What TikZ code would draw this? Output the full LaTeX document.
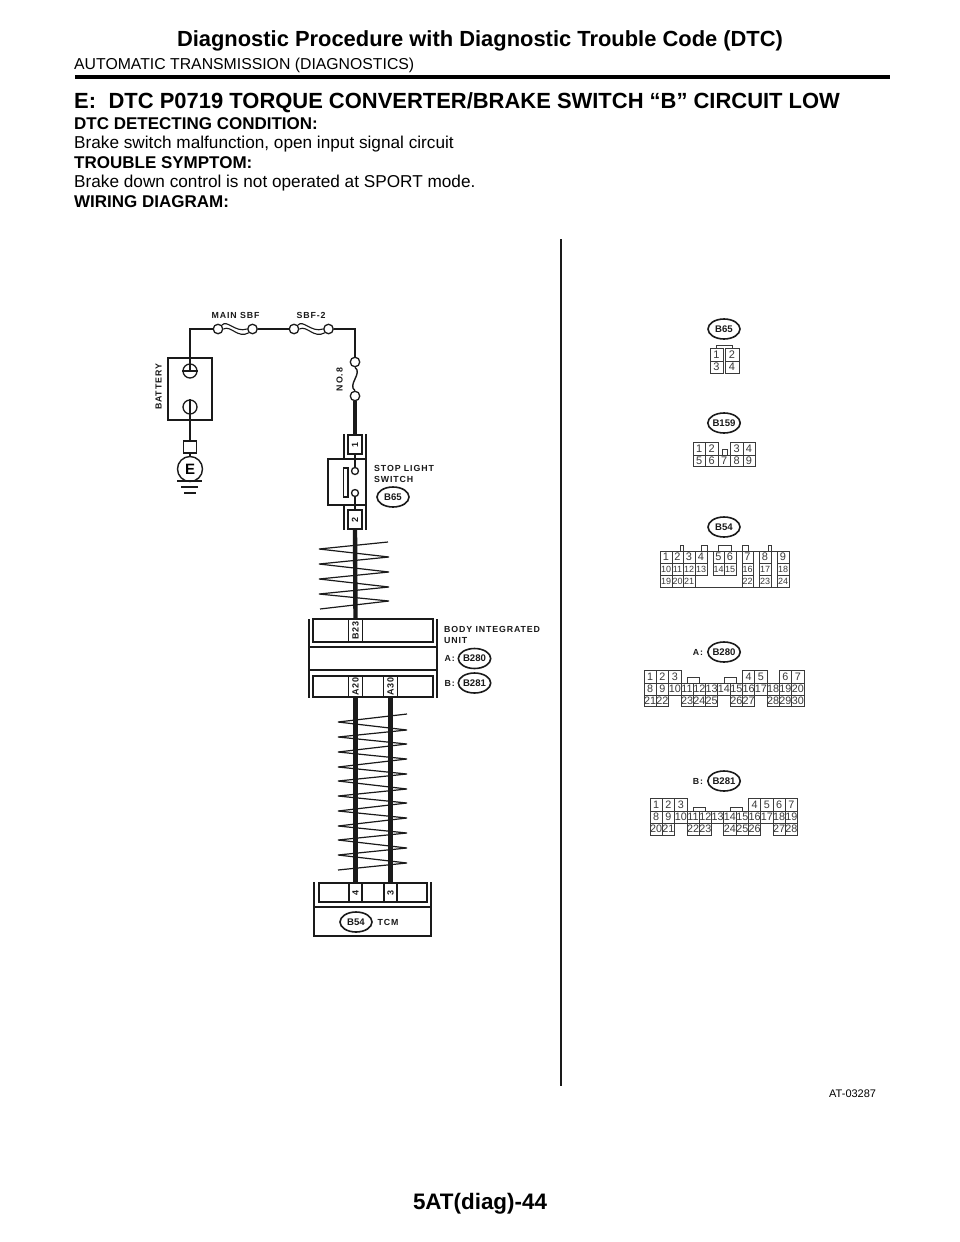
\documentclass[tikz,border=0pt]{standalone}
\usepackage{fontspec}
\setmainfont{Liberation Sans}
\newfontfamily\spaced[LetterSpace=10,Ligatures=NoCommon]{Liberation Sans}
\usetikzlibrary{shapes.geometric}
\definecolor{ink}{HTML}{1A1A1A}
\definecolor{pinink}{HTML}{3A3A3A}
\newcommand{\fs}[1]{\fontsize{#1}{#1}\selectfont}
\tikzset{
  wire/.style={line width=1.4pt,ink},
  hwire/.style={line width=4.4pt,ink},
  twist/.style={line width=1.2pt,ink,line join=bevel},
  box/.style={line width=1.3pt,ink},
  term/.style={circle,draw=ink,line width=1.3pt,fill=white,inner sep=0pt,minimum size=9.5pt},
  smallterm/.style={term,minimum size=7pt},
  pinbox/.style={rectangle,draw=ink,line width=1.3pt,fill=white,inner sep=0pt,minimum width=14pt,minimum height=22pt,font=\spaced\bfseries\fs{9},text=ink},
  lab/.style={font=\spaced\bfseries\fs{8.8},text=ink,inner sep=0pt},
  tag/.style={ellipse,draw=ink,line width=1.6pt,inner sep=0pt,minimum width=32pt,minimum height=20pt,font=\bfseries\fs{9.6},text=ink},
  pinline/.style={line width=.8pt,pinink},
  pinnum/.style={inner sep=0pt,text=pinink},
  head/.style={anchor=base west,inner sep=0pt,text=black}
}
% prefix, x0, y1, y2, font size, list of column/text
\newcommand{\gridrow}[6]{%
  \foreach \c/\t in {#6}{%
    \pgfmathsetmacro{\xa}{#2+12.3*\c}%
    \pgfmathsetmacro{\xb}{\xa+12.3}%
    \draw[pinline] (\xa,#3) rectangle (\xb,#4) node[midway,pinnum,font=\fs{#5}] (#1\t) {\t};%
  }}
% prefix, y1, y2, font size, list of xa/xb/text
\newcommand{\pinrow}[5]{%
  \foreach \a/\b/\t in {#5}{%
    \draw[pinline] (\a,#2) rectangle (\b,#3) node[midway,pinnum,font=\fs{#4}] (#1\t) {\t};%
  }}
\begin{document}
\begin{tikzpicture}[x=1pt,y=-1pt]
\useasboundingbox (0,0) rectangle (960,1242);
\fill[white] (0,0) rectangle (960,1242);

% page text
\node[inner sep=0pt,anchor=base,font=\bfseries\fs{21.9}] (title) at (480,46.5) {Diagnostic Procedure with Diagnostic Trouble Code (DTC)};
\node[head,font=\fs{15.8}] (sub) at (74,69) {AUTOMATIC TRANSMISSION (DIAGNOSTICS)};
\draw[line width=4pt,black] (75,76.5) -- (890,76.5);
\node[head,font=\bfseries\fs{21.95}] (sec) at (74,108) {E:\hspace{12.5pt}DTC P0719 TORQUE CONVERTER/BRAKE SWITCH “B” CIRCUIT LOW};
\node[head,font=\bfseries\fs{17}] (t1) at (74,129) {DTC DETECTING CONDITION:};
\node[head,font=\fs{17.2}] (t2) at (74,148.5) {Brake switch malfunction, open input signal circuit};
\node[head,font=\bfseries\fs{17}] (t3) at (74,168) {TROUBLE SYMPTOM:};
\node[head,font=\fs{17.2}] (t4) at (74,187.5) {Brake down control is not operated at SPORT mode.};
\node[head,font=\bfseries\fs{17}] (t5) at (74,207.5) {WIRING DIAGRAM:};
\node[inner sep=0pt,anchor=base,font=\bfseries\fs{22.4}] (foot) at (480,1209) {5AT(diag)-44};
\node[head,font=\fs{11}] (code) at (829,1097) {AT-03287};

% divider
\draw[line width=2pt,ink] (561,239) -- (561,1086);

% battery
\draw[box] (168,358) rectangle (212,420);
\node[lab,rotate=90] (battlab) at (158.5,387) {BATTERY};
\node[circle,draw=ink,line width=1.3pt,inner sep=0pt,minimum size=14pt] (bp) at (190,371) {};
\node[circle,draw=ink,line width=1.3pt,inner sep=0pt,minimum size=14pt] (bm) at (190,407) {};
\draw[wire] (bp.west) -- (bp.east);
\node[rectangle,draw=ink,line width=1.3pt,inner sep=0pt,minimum width=13pt,minimum height=12pt] (gsq) at (190,447) {};
\node[circle,draw=ink,line width=1.4pt,inner sep=0pt,minimum size=25pt,font=\bfseries\fs{15}] (gnd) at (190,469) {E};
\draw[wire] (bm.north) -- (bm.center) -- (gsq.north);
\draw[wire] (gsq.south) -- (gnd.north);
\draw[wire] (177,481) -- (202,481) (181,487) -- (198,487) (184,493) -- (196,493);

% fuses
\node[term] (mf1) at (218,329) {};
\node[term] (mf2) at (252.5,329) {};
\node[term] (sf1) at (294,329) {};
\node[term] (sf2) at (328.5,329) {};
\node[term] (n1) at (355,362) {};
\node[term] (n2) at (355,396) {};
\draw[wire,line width=1.1pt] (mf1.north east) .. controls (227,319) and (235,333) .. (mf2.west);
\draw[wire,line width=1.1pt] (mf1.east) .. controls (231,325) and (238,339) .. (mf2.south west);
\draw[wire,line width=1.1pt] (sf1.north east) .. controls (303,319) and (311,333) .. (sf2.west);
\draw[wire,line width=1.1pt] (sf1.east) .. controls (307,325) and (314,339) .. (sf2.south west);
\draw[wire] (n1.south) .. controls (363,373) and (347,385) .. (n2.north);
\draw[wire] (bp.center) |- (mf1.west);
\draw[wire] (mf2.east) -- (sf1.west);
\draw[wire] (sf2.east) -| (n1.north);
\node[lab] (l1) at (235.5,315) {MAIN SBF};
\node[lab] (l2) at (311,315) {SBF-2};
\node[lab,rotate=90] (l3) at (339.5,379.5) {NO.8};

% stop light switch
\draw[box] (344,434) -- (344,459) (366,434) -- (366,459);
\draw[box] (344,505) -- (344,530) (366,505) -- (366,530);
\draw[box] (328,459) rectangle (366,505);
\draw[box] (343.5,468) rectangle (348,497);
\node[pinbox,minimum height=19pt] (c1) at (355,444.5) {\rotatebox{90}{1}};
\node[pinbox,minimum height=19pt] (c2) at (355,519.5) {\rotatebox{90}{2}};
\node[smallterm] (s1) at (355,471) {};
\node[smallterm] (s2) at (355,493) {};
\draw[wire] (s1.north) -- (c1.south);
\draw[wire] (s2.south) -- (c2.north);
\node[lab,anchor=west] (l4) at (374,468) {STOP LIGHT};
\node[lab,anchor=west] (l5) at (374,479) {SWITCH};
\node[tag] (tb65) at (393,497) {B65};
\draw[hwire] (n2.south) -- (c1.north);

% body integrated unit
\draw[box] (309,619) -- (309,698) (437,619) -- (437,698);
\draw[box] (313,619) rectangle (433,642);
\draw[box] (313,676) rectangle (433,697);
\draw[box] (309,647) -- (437,647) (309,670) -- (437,670);
\node[pinbox,minimum height=23pt] (b23) at (355.5,630.5) {\rotatebox{90}{B23}};
\node[pinbox,minimum height=21pt] (a20) at (355.5,686.5) {\rotatebox{90}{A20}};
\node[pinbox,minimum height=21pt] (a30) at (390.5,686.5) {\rotatebox{90}{A30}};
\node[lab,anchor=west] (l6) at (444,629.5) {BODY INTEGRATED};
\node[lab,anchor=west] (l7) at (444,640.5) {UNIT};
\node[lab,anchor=west] (l8) at (444.5,658) {A:};
\node[lab,anchor=west] (l9) at (444.5,683) {B:};
\node[tag] (t280) at (474.5,658.5) {B280};
\node[tag] (t281) at (474.5,683) {B281};

% TCM
\draw[box] (314,882) -- (314,936) -- (431,936) -- (431,882);
\draw[box] (319,883) rectangle (427,902);
\draw[box] (314,907) -- (431,907);
\node[pinbox,minimum width=13pt,minimum height=19pt] (p4) at (355.5,892.5) {\rotatebox{90}{4}};
\node[pinbox,minimum width=13pt,minimum height=19pt] (p3) at (390.5,892.5) {\rotatebox{90}{3}};
\node[tag] (t54) at (356,922) {B54};
\node[lab] (l10) at (388,922) {TCM};

% wires and twists
\draw[hwire] (c2.south) -- (b23.north);
\draw[hwire] (a20.south) -- (p4.north);
\draw[hwire] (a30.south) -- (p3.north);
\draw[twist] (388,542) -- (319,549) -- (389,557) -- (319,564) -- (389,572) -- (319,579) -- (389,587) -- (319,594) -- (389,601) -- (320,609);
\draw[twist] (407,714) -- (338,722) -- (407,730) -- (338,737) -- (407,744) -- (338,752) -- (407,759) -- (338,767) -- (407,774) -- (338,781) -- (407,789) -- (338,796) -- (407,803) -- (338,811) -- (407,818) -- (338,826) -- (407,833) -- (338,840) -- (407,848) -- (338,855) -- (407,863) -- (338,870);

% connector B65
\node[tag] (k65) at (724,329) {B65};
\draw[pinline] (716,348) -- (716,345) -- (732,345) -- (732,348);
\pinrow{ka}{348}{361}{11}{710/723/1,725/739/2}
\pinrow{ka}{361}{373}{11}{710/723/3,725/739/4}

% connector B159
\node[tag] (k159) at (724,423) {B159};
\draw[pinline] (722,449) rectangle (727,455);
\pinrow{kb}{442}{455}{11}{693/705.5/1,705.5/718/2,730.5/743/3,743/755/4}
\pinrow{kb}{455}{466}{11}{693/705.5/5,705.5/718/6,718/730.5/7,730.5/743/8,743/755/9}

% connector B54
\node[tag] (k54) at (724,527) {B54};
\foreach \a/\b in {680/683,701/707,718/731,742/748,768/771}{
  \draw[pinline] (\a,551) -- (\a,545) -- (\b,545) -- (\b,551);
}
\draw[pinline] (660,551) rectangle (789,587);
\pinrow{kc}{551}{563}{11}{660/672/1,672/683/2,683/695/3,695/707/4,713/724/5,724/736/6,742/753/7,759/771/8,777/789/9}
\pinrow{kc}{563}{575}{9}{660/672/10,672/683/11,683/695/12,695/707/13,713/724/14,724/736/15,742/753/16,759/771/17,777/789/18}
\pinrow{kc}{575}{587}{9}{660/672/19,672/683/20,683/695/21,742/753/22,759/771/23,777/789/24}

% connector B280
\node[lab] (la) at (698,652) {A:};
\node[tag] (k280) at (724,652) {B280};
\draw[pinline] (687.3,683) -- (687.3,677) -- (699.3,677) -- (699.3,683);
\draw[pinline] (724.3,683) -- (724.3,677) -- (736.7,677) -- (736.7,683);
\gridrow{kd}{644}{670}{683}{10.8}{0/1,1/2,2/3,8/4,9/5,11/6,12/7}
\gridrow{kd}{644}{683}{695}{10.8}{0/8,1/9,2/10,3/11,4/12,5/13,6/14,7/15,8/16,9/17,10/18,11/19,12/20}
\gridrow{kd}{644}{695}{706}{10.8}{0/21,1/22,3/23,4/24,5/25,7/26,8/27,10/28,11/29,12/30}

% connector B281
\node[lab] (lb) at (698,781) {B:};
\node[tag] (k281) at (724,781) {B281};
\draw[pinline] (693,811) -- (693,807) -- (705,807) -- (705,811);
\draw[pinline] (730,811) -- (730,807) -- (742,807) -- (742,811);
\gridrow{ke}{650}{798}{811}{10.8}{0/1,1/2,2/3,8/4,9/5,10/6,11/7}
\gridrow{ke}{650}{811}{823}{10.8}{0/8,1/9,2/10,3/11,4/12,5/13,6/14,7/15,8/16,9/17,10/18,11/19}
\gridrow{ke}{650}{823}{835}{10.8}{0/20,1/21,3/22,4/23,6/24,7/25,8/26,10/27,11/28}
\end{tikzpicture}
\end{document}
